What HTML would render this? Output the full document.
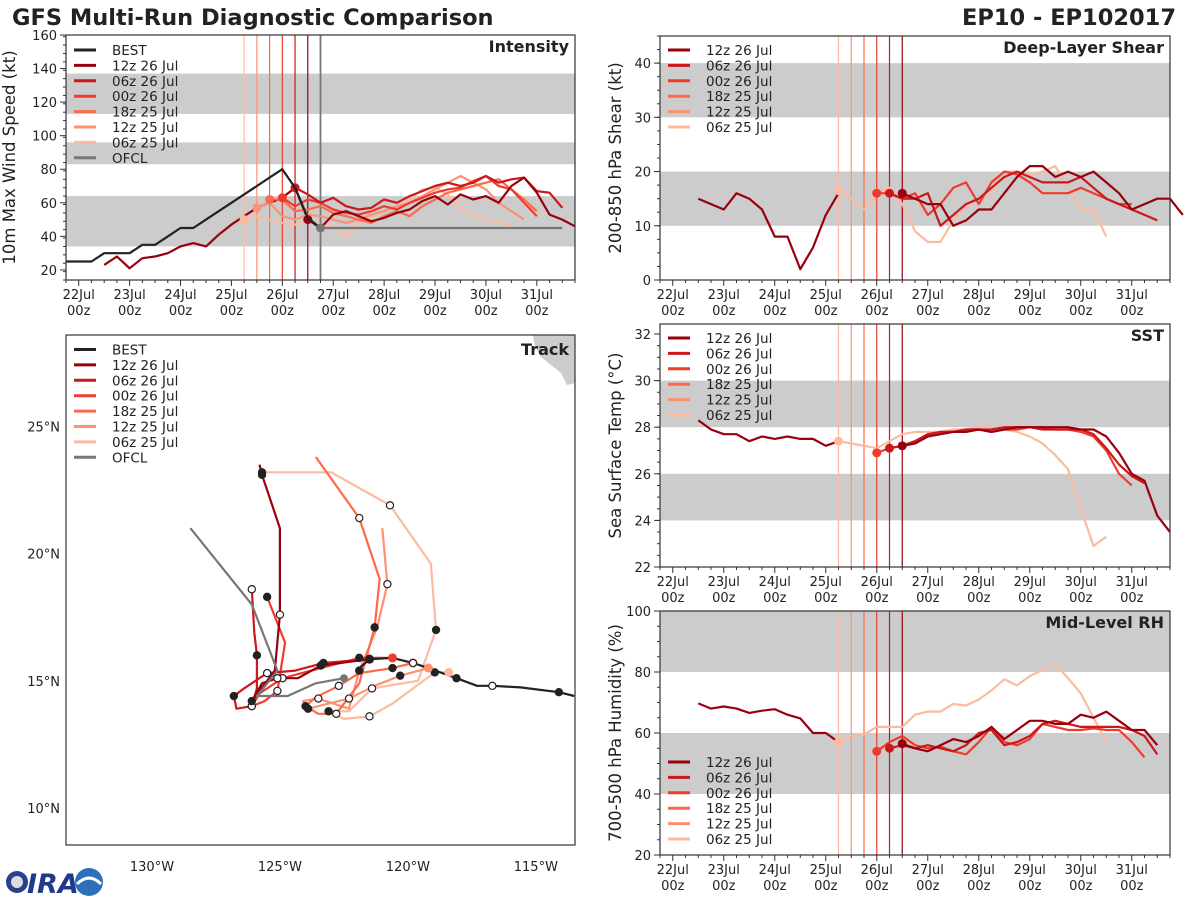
<!DOCTYPE html>
<html><head><meta charset="utf-8">
<style>
body{margin:0;background:#fff;}
svg{display:block;font-family:"DejaVu Sans","Liberation Sans",sans-serif;}
</style></head>
<body>
<svg id="fig" width="1200" height="900" viewBox="0 0 1200 900" xmlns="http://www.w3.org/2000/svg">
<text x="12" y="25" font-size="22.5" font-weight="bold" fill="#222">GFS Multi-Run Diagnostic Comparison</text>
<text x="1176" y="25" font-size="22.5" font-weight="bold" fill="#222" text-anchor="end">EP10 - EP102017</text>
<g>
<circle cx="17" cy="882" r="11" fill="#2a3f8f"/>
<circle cx="17" cy="882" r="6" fill="#ddd"/>
<text x="27" y="893" font-size="27" font-weight="bold" fill="#1f3a8a" font-style="italic">IRA</text>
<circle cx="89" cy="882" r="14" fill="#2d6fb8"/>
<path d="M77 884 Q89 872 101 884" stroke="#fff" stroke-width="3" fill="none"/>
</g>
</svg>
<script>
// ---------- shared ----------
const runNames = ["12z 26 Jul","06z 26 Jul","00z 26 Jul","18z 25 Jul","12z 25 Jul","06z 25 Jul"];
const runInit = [4.5,4.25,4.0,3.75,3.5,3.25];
const xTickLabels = ["22Jul","23Jul","24Jul","25Jul","26Jul","27Jul","28Jul","29Jul","30Jul","31Jul"];
const ofclInit = 4.75;

// ---------- intensity (kt) ----------
const intBestStart = -0.25;
const intBest = [25,25,25,30,30,30,35,35,40,45,45,50,55,60,65,70,75,80,69,51,45];
const intHistStart = 0.5;
const intHist = [23,28,21,27,28,30,34,36,34,41,47,52,57,60,63,69,50];
const int12z26 = [50,45,53,55,52,49,51,54,56,61,64,59,65,62,64,60,70,75,66,53,50,46];
const int06z26 = [69,65,60,63,58,56,57,62,60,64,67,70,72,70,72,76,72,74,75,67,66,57];
const int00z26 = [63,58,62,60,56,54,53,55,58,56,60,63,66,68,69,73,76,70,68,60,52];
const int18z25 = [62,62,55,56,58,54,52,50,48,52,55,52,58,62,66,68,70,72,74,68,62,55];
const int12z25 = [57,60,52,50,53,52,50,48,50,53,55,58,60,64,68,72,76,72,68,60,55,50];
const int06z25 = [50,52,50,48,47,50,47,46,40,48,52,55,58,62,68,69,65,57,52,50,48,47];
const intOfcl = [45,45,45,45,45,45,45,45,45,45,45,45,45,45,45,45,45,45,45,45];

// ---------- shear (kt) ----------
const shrHist = [15,14,13,16,15,13,8,8,2,6,12,16];
const shr12z26 = [16,15,14,14,10,11,13,13,16,19,21,21,19,20,19,20,18,16,13,14,15,15,12];
const shr06z26 = [16,15,15,16,10,12,14,15,17,19,20,19,18,18,18,19,17,15,14,13,12,11];
const shr00z26 = [16,16,15,16,12,14,17,18,14,18,20,19.5,18,16,16,16,17,16,15,14,14];
const shr06z25 = [16.5,15,13,16,17,14,9,7,7,11,13.5,15,16,20,20,19.5,20,21,17,13,13,8];

// ---------- SST (C) ----------
const sstHist = [28.3,27.9,27.7,27.7,27.4,27.6,27.5,27.6,27.5,27.5,27.2,27.4];
const sst12z26 = [27.2,27.3,27.6,27.7,27.8,27.8,27.9,27.8,27.9,28,28,28,28,28,27.9,27.9,27.6,26.9,26,25.7,24.2,23.5];
const sst06z26 = [27.1,27.2,27.4,27.7,27.8,27.8,27.9,27.9,27.9,28,28,28,27.9,27.9,27.9,27.9,27.7,27.1,26.4,25.9,25.6];
const sst00z26 = [26.9,27.1,27.2,27.4,27.7,27.8,27.8,27.9,27.9,27.8,27.9,27.9,28,28,27.9,27.9,27.8,27.6,27,26,25.5];
const sst06z25 = [27.4,27.3,27.2,27.1,27.4,27.7,27.8,27.8,27.8,27.9,27.9,28,28,27.9,27.8,27.6,27.3,26.8,26.2,24.5,22.9,23.3];

// ---------- RH (%) ----------
const rhHist = [69.7,68,68.7,68,66.6,67.3,67.8,66,64.8,60,60,57];
const rh12z26 = [56.5,55,54,56,58,57,59,62,58,61,64,64,63,63,66,65,67,64,61,61,56];
const rh06z26 = [55,56,55,56,55,54,56,60,61,56,57,59,63,64,63,62,62,62,62,61,59,53];
const rh00z26 = [54,57,59,56,55,55.5,54,53,57,62,57,56,58,63,62,61,61,61.5,61,61,57,52];
const rh06z25 = [57,59,59.5,62,62,62,66,67,67,69.5,69,71,74,77.6,75.6,78.7,80.6,82.6,78,73,65,57];

// ---------- track (deg W, deg N) ----------
const trkBestLon = [113.5,114.1,115.6,116.7,117.3,118.1,119.2,119.8,120.6,121.5,122.0];
const trkBestLat = [14.4,14.55,14.74,14.8,14.8,15.1,15.5,15.7,15.9,15.85,15.4];
const trkOfclLon = [122.5,123.6,124.7,125.9,125.1,126.1,128.5];
const trkOfclLat = [15.1,14.9,14.4,14.4,15.4,18.0,21.0];
const trk12z26Lon = [121.5,123.4,124.3,125.1,125.7,126.1,125.2,125.0,125.0,125.7,125.8];
const trk12z26Lat = [15.85,15.6,15.1,15.1,14.9,14.2,15.4,17.6,21.0,23.1,23.5];
const trk06z26Lon = [121.5,123.3,124.4,125.5,126.4,126.8,126.7,126.1,125.9,125.9,126.0,126.1];
const trk06z26Lat = [15.85,15.7,15.4,15.3,14.7,14.4,13.9,14.0,14.7,16.0,16.9,18.6];
const trk00z26Lon = [120.6,121.9,123.4,124.9,125.8,126.1,125.6,125.1,124.8,125.5];
const trk00z26Lat = [15.9,15.9,15.5,15.1,14.5,14.0,14.2,14.6,16.5,18.3];
const trk18z25Lon = [119.8,120.6,121.9,122.7,123.6,124.0,123.5,122.8,121.9,121.3,121.1,121.9,123.6];
const trk18z25Lat = [15.7,15.5,15.3,14.8,14.35,14.0,13.7,13.7,14.9,17.1,19.0,21.4,23.8];
const trk12z25Lon = [119.2,120.3,121.3,122.3,123.1,123.9,124.1,123.5,122.3,121.9,121.2,120.8,121.0];
const trk12z25Lat = [15.5,15.2,14.8,14.3,14.1,13.9,14.2,14.3,13.9,15.4,17.1,18.8,21.0];
const trk06z25Lon = [118.4,118.95,120.6,121.5,122.5,123.1,122.3,121.4,119.6,118.9,119.1,120.7,123.0,125.7];
const trk06z25Lat = [15.33,15.33,14.1,13.6,13.5,13.8,13.8,14.7,15.0,17.0,19.6,21.9,23.2,23.2];

const COL = ["#99000d","#cb181d","#ef3b2c","#fb6a4a","#fc9272","#fcbba1"];
const NS = "http://www.w3.org/2000/svg";
const fig = document.getElementById("fig");
function mk(tag, attrs, parent){
  const e = document.createElementNS(NS, tag);
  for (const k in attrs) e.setAttribute(k, attrs[k]);
  (parent||fig).appendChild(e);
  return e;
}

function timePanel(p){
  const g = mk("g", {});
  
  
  const X = t => p.x0 + (t + 0.25) / 10 * (p.x1 - p.x0);
  const Y = v => p.y1 - (v - p.ymin) / (p.ymax - p.ymin) * (p.y1 - p.y0);
  p.bands.forEach(b => {
    const r = mk("rect", {x:p.x0, y:Y(Math.min(b[1],p.ymax)), width:p.x1-p.x0, height:Y(b[0])-Y(Math.min(b[1],p.ymax)), fill:"#cccccc"}, g);
    
    
  });
  runInit.forEach((t,i) => {
    const l = mk("line", {x1:X(t), x2:X(t), y1:p.y0, y2:p.y1, stroke:COL[i], "stroke-width":1.2}, g);
    
    
  });
  if (p.ofclLine){
    const l = mk("line", {x1:X(ofclInit), x2:X(ofclInit), y1:p.y0, y2:p.y1, stroke:"#777", "stroke-width":1.8}, g);
    
    
  }
  p.series.forEach(s => {
    const pts = s.vals.map((v,i) => X(s.start + i*0.25).toFixed(1) + "," + Y(v).toFixed(1)).join(" ");
    const pl = mk("polyline", {points:pts, fill:"none", stroke:s.color, "stroke-width":2.2, "stroke-linejoin":"round"}, g);
    
    
    if (s.dot){
      const c = mk("circle", {cx:X(s.start), cy:Y(s.vals[0]), r:4.5, fill:s.color}, g);
      
      
    }
  });
  const fr = mk("rect", {x:p.x0, y:p.y0, width:p.x1-p.x0, height:p.y1-p.y0, fill:"none", stroke:"#333", "stroke-width":1.2}, g);
  
  
  for (let t=-0.25; t<=9.76; t+=0.25){
    const major = Math.abs(t - Math.round(t)) < 1e-6;
    mk("line", {x1:X(t), x2:X(t), y1:p.y1, y2:p.y1 + (major?6:3), stroke:"#333", "stroke-width":1}, g);
  }
  xTickLabels.forEach((lab,i) => {
    const a = mk("text", {x:X(i), y:p.y1+19, "font-size":13, fill:"#222", "text-anchor":"middle"}, g);
    a.textContent = lab;
    
    
    const b = mk("text", {x:X(i), y:p.y1+35, "font-size":13, fill:"#222", "text-anchor":"middle"}, g);
    b.textContent = "00z";
    
    
  });
  for (let v=p.ymin; v<=p.ymax+1e-6; v+=p.minor){
    mk("line", {x1:p.x0-3, x2:p.x0, y1:Y(v), y2:Y(v), stroke:"#333", "stroke-width":1}, g);
  }
  p.yticks.forEach(v => {
    mk("line", {x1:p.x0-6, x2:p.x0, y1:Y(v), y2:Y(v), stroke:"#333", "stroke-width":1}, g);
    const t = mk("text", {x:p.x0-9, y:Y(v)+5, "font-size":13, fill:"#222", "text-anchor":"end"}, g);
    t.textContent = v;
    
    
  });
  const yt = mk("text", {x:0, y:0, "font-size":16.5, fill:"#222", "text-anchor":"middle", transform:`translate(${p.ytx},${(p.y0+p.y1)/2}) rotate(-90)`}, g);
  yt.textContent = p.ytitle;
  
  
  const tt = mk("text", {x:p.x1-6, y:p.y0+17, "font-size":16, "font-weight":"bold", fill:"#222", "text-anchor":"end"}, g);
  tt.textContent = p.title;
  
  
  legend(g, p.x0+8, p.legY, p.legend);
}

function legend(g, x, y, entries){
  const lg = mk("g", {}, g);
  
  
  entries.forEach((e,i) => {
    const yy = y + i*15.4;
    mk("line", {x1:x, x2:x+22, y1:yy, y2:yy, stroke:e[1], "stroke-width":3}, lg);
    const t = mk("text", {x:x+38, y:yy+5, "font-size":13.5, fill:"#222"}, lg);
    t.textContent = e[0];
    
    
  });
}

const runLegend = runNames.map((n,i) => [n, COL[i]]);
const fullLegend = [["BEST","#222"]].concat(runLegend).concat([["OFCL","#777"]]);

timePanel({name:"intensity-panel", x0:66, x1:575, y0:35, y1:280, ymin:14, ymax:160, yticks:[20,40,60,80,100,120,140,160], minor:5,
  bands:[[34,64],[83,96],[113,137]], ofclLine:true, ytitle:"10m Max Wind Speed (kt)", ytx:15, title:"Intensity", legY:50, legend:fullLegend,
  series:[
    {name:"intensity-history", start:intHistStart, vals:intHist, color:COL[0]},
    {name:"intensity-06z25", start:3.25, vals:int06z25, color:COL[5], dot:true},
    {name:"intensity-12z25", start:3.5, vals:int12z25, color:COL[4], dot:true},
    {name:"intensity-18z25", start:3.75, vals:int18z25, color:COL[3], dot:true},
    {name:"intensity-00z26", start:4.0, vals:int00z26, color:COL[2], dot:true},
    {name:"intensity-06z26", start:4.25, vals:int06z26, color:COL[1], dot:true},
    {name:"intensity-12z26", start:4.5, vals:int12z26, color:COL[0], dot:true},
    {name:"intensity-best", start:intBestStart, vals:intBest, color:"#222"},
    {name:"intensity-ofcl", start:ofclInit, vals:intOfcl, color:"#777", dot:true}
  ]});

timePanel({name:"shear-panel", x0:660, x1:1170, y0:36, y1:280, ymin:0, ymax:45, yticks:[0,10,20,30,40], minor:2.5,
  bands:[[10,20],[30,40]], ytitle:"200-850 hPa Shear (kt)", ytx:621, title:"Deep-Layer Shear", legY:50, legend:runLegend,
  series:[
    {name:"shear-history", start:0.5, vals:shrHist, color:COL[0]},
    {name:"shear-06z25", start:3.25, vals:shr06z25, color:COL[5], dot:true},
    {name:"shear-00z26", start:4.0, vals:shr00z26, color:COL[2], dot:true},
    {name:"shear-06z26", start:4.25, vals:shr06z26, color:COL[1], dot:true},
    {name:"shear-12z26", start:4.5, vals:shr12z26, color:COL[0], dot:true}
  ]});

timePanel({name:"sst-panel", x0:660, x1:1170, y0:324, y1:567, ymin:22, ymax:32.43, yticks:[22,24,26,28,30,32], minor:0.5,
  bands:[[24,26],[28,30]], ytitle:"Sea Surface Temp (°C)", ytx:621, title:"SST", legY:338, legend:runLegend,
  series:[
    {name:"sst-history", start:0.5, vals:sstHist, color:COL[0]},
    {name:"sst-06z25", start:3.25, vals:sst06z25, color:COL[5], dot:true},
    {name:"sst-00z26", start:4.0, vals:sst00z26, color:COL[2], dot:true},
    {name:"sst-06z26", start:4.25, vals:sst06z26, color:COL[1], dot:true},
    {name:"sst-12z26", start:4.5, vals:sst12z26, color:COL[0], dot:true}
  ]});

timePanel({name:"rh-panel", x0:660, x1:1170, y0:611, y1:855, ymin:20, ymax:100, yticks:[20,40,60,80,100], minor:5,
  bands:[[40,60],[80,100]], ytitle:"700-500 hPa Humidity (%)", ytx:621, title:"Mid-Level RH", legY:762, legend:runLegend,
  series:[
    {name:"rh-history", start:0.5, vals:rhHist, color:COL[0]},
    {name:"rh-06z25", start:3.25, vals:rh06z25, color:COL[5], dot:true},
    {name:"rh-00z26", start:4.0, vals:rh00z26, color:COL[2], dot:true},
    {name:"rh-06z26", start:4.25, vals:rh06z26, color:COL[1], dot:true},
    {name:"rh-12z26", start:4.5, vals:rh12z26, color:COL[0], dot:true}
  ]});

// ---------- track panel ----------
(function(){
  const x0=66,x1=575,y0=335,y1=845, lonL=133.36, lonR=113.47, latT=28.6, latB=8.54;
  const X = lon => x0 + (lonL - lon)/(lonL - lonR)*(x1-x0);
  const Y = lat => y0 + (latT - lat)/(latT - latB)*(y1-y0);
  const g = mk("g", {});
  
  
  const land = mk("path", {d:`M${x1-42} ${y0} L${x1} ${y0} L${x1} ${y0+48} L${x1-8} ${y0+50} L${x1-14} ${y0+38} L${x1-24} ${y0+30} L${x1-34} ${y0+22} L${x1-40} ${y0+12} Z`, fill:"#cccccc"}, g);
  
  
  const tracks = [
    ["track-06z25", trk06z25Lon, trk06z25Lat, COL[5]],
    ["track-12z25", trk12z25Lon, trk12z25Lat, COL[4]],
    ["track-18z25", trk18z25Lon, trk18z25Lat, COL[3]],
    ["track-00z26", trk00z26Lon, trk00z26Lat, COL[2]],
    ["track-06z26", trk06z26Lon, trk06z26Lat, COL[1]],
    ["track-12z26", trk12z26Lon, trk12z26Lat, COL[0]],
    ["track-ofcl", trkOfclLon, trkOfclLat, "#777"],
    ["track-best", trkBestLon, trkBestLat, "#222"]
  ];
  tracks.forEach(tr => {
    const pts = tr[1].map((lo,i) => X(lo).toFixed(1)+","+Y(tr[2][i]).toFixed(1)).join(" ");
    const pl = mk("polyline", {points:pts, fill:"none", stroke:tr[3], "stroke-width":2.2, "stroke-linejoin":"round"}, g);
    
    
  });
  tracks.forEach(tr => {
    if (tr[0]==="track-ofcl"){
      const c = mk("circle", {cx:X(tr[1][0]), cy:Y(tr[2][0]), r:4, fill:"#777"}, g);
      
      
      return;
    }
    tr[1].forEach((lo,i) => {
      if (i===0 && tr[0]!=="track-best"){
        const c = mk("circle", {cx:X(lo), cy:Y(tr[2][i]), r:4.5, fill:tr[3]}, g);
        
        
        return;
      }
      if (i%2===0) return;
      const filled = (i%4===1);
      const c = mk("circle", {cx:X(lo), cy:Y(tr[2][i]), r:3.6, fill:filled?"#222":"#fff", stroke:"#222", "stroke-width":1.2}, g);
      
      
    });
  });
  const fr = mk("rect", {x:x0, y:y0, width:x1-x0, height:y1-y0, fill:"none", stroke:"#333", "stroke-width":1.2}, g);
  
  
  [10,15,20,25].forEach(la => {
    const t = mk("text", {x:x0-6, y:Y(la)+5, "font-size":13, fill:"#222", "text-anchor":"end"}, g);
    t.textContent = la + "°N";
    
    
  });
  [130,125,120,115].forEach(lo => {
    const t = mk("text", {x:X(lo), y:y1+26, "font-size":13, fill:"#222", "text-anchor":"middle"}, g);
    t.textContent = lo + "°W";
    
    
  });
  const tt = mk("text", {x:x1-6, y:y0+20, "font-size":16, "font-weight":"bold", fill:"#222", "text-anchor":"end"}, g);
  tt.textContent = "Track";
  
  
  legend(g, x0+8, 349.5, fullLegend);
})();
</script>
</body></html>
